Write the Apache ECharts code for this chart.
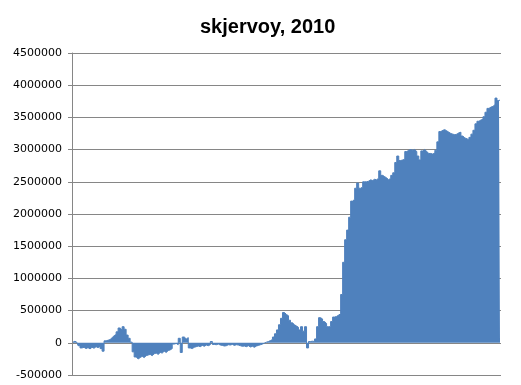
<!DOCTYPE html>
<html>
<head>
<meta charset="utf-8">
<script src="https://cdn.jsdelivr.net/npm/echarts@6/dist/echarts.min.js"></script>
<style>
html,body{margin:0;padding:0;background:#fff;}
#c{width:521px;height:385px;}
</style>
</head>
<body>
<div id="c"></div>
<script>
const titleText = "skjervoy, 2010";
const yTicks = { min: -500000, max: 4500000, step: 500000 };
const values = [
  10000, 25000, 5000, -45000, -80000, -70000, -90000, -75000, -95000, -70000,
  -85000, -60000, -75000, -55000, -90000, -130000, 30000, 40000, 50000, 80000,
  110000, 130000, 170000, 230000, 200000, 250000, 210000, 120000, 70000, 10000,
  -140000, -220000, -250000, -230000, -210000, -230000, -200000, -190000, -180000, -200000,
  -170000, -160000, -180000, -150000, -160000, -130000, -150000, -120000, -110000, -90000,
  -20000, -10000, -30000, 70000, -150000, 90000, 60000, 80000, -80000, -90000,
  -70000, -60000, -50000, -60000, -40000, -55000, -35000, -45000, -30000, 20000,
  -25000, -30000, -20000, -35000, -40000, -50000, -45000, -30000, -35000, -25000,
  -40000, -30000, -35000, -45000, -55000, -50000, -60000, -45000, -65000, -55000,
  -70000, -50000, -40000, -30000, -20000, -5000, 10000, 20000, 35000, 50000,
  90000, 140000, 200000, 280000, 380000, 470000, 440000, 420000, 350000, 310000,
  280000, 260000, 240000, 200000, 250000, 180000, 250000, -80000, 20000, 25000,
  20000, 60000, 250000, 390000, 370000, 330000, 300000, 250000, 250000, 330000,
  400000, 410000, 430000, 450000, 750000, 1250000, 1600000, 1750000, 1950000, 2200000,
  2230000, 2400000, 2480000, 2400000, 2420000, 2500000, 2500000, 2510000, 2530000, 2520000,
  2540000, 2530000, 2560000, 2670000, 2600000, 2580000, 2560000, 2530000, 2560000, 2600000,
  2640000, 2800000, 2900000, 2830000, 2840000, 2850000, 2970000, 2990000, 3000000, 2990000,
  3000000, 2970000, 2900000, 2840000, 2980000, 3000000, 2970000, 2940000, 2940000, 2930000,
  2950000, 2990000, 3120000, 3280000, 3300000, 3310000, 3290000, 3270000, 3250000, 3240000,
  3230000, 3240000, 3260000, 3270000, 3210000, 3180000, 3170000, 3150000, 3190000, 3240000,
  3300000, 3400000, 3440000, 3460000, 3470000, 3510000, 3580000, 3640000, 3660000, 3670000,
  3700000, 3800000, 3760000, 3770000
];
const categories = values.map((v, i) => String(i + 1));

const chart = echarts.init(document.getElementById('c'), null, { renderer: 'canvas' });
chart.setOption({
  animation: false,
  backgroundColor: '#ffffff',
  title: {
    text: titleText,
    left: 195,
    top: 12,
    textStyle: { fontFamily: 'Liberation Sans', fontWeight: 'bold', fontSize: 20, color: '#000000' }
  },
  grid: { left: 72, right: 20, top: 53, bottom: 10, containLabel: false },
  xAxis: {
    type: 'category',
    data: categories,
    boundaryGap: true,
    axisLine: { show: false },
    axisTick: { show: false },
    axisLabel: { show: false },
    splitLine: { show: false }
  },
  yAxis: {
    type: 'value',
    min: yTicks.min,
    max: yTicks.max,
    interval: yTicks.step,
    axisLine: { show: true, lineStyle: { color: '#868686', width: 1 } },
    axisTick: { show: true, inside: false, length: 4, lineStyle: { color: '#868686' } },
    axisLabel: { margin: 10, fontFamily: 'DejaVu Sans', fontSize: 11, color: '#000000',
      formatter: v => String(v) },
    splitLine: { show: true, lineStyle: { color: '#868686', width: 1 } }
  },
  series: [{
    type: 'line',
    data: values,
    step: 'middle',
    symbol: 'none',
    lineStyle: { color: '#4f81bd', width: 1 },
    areaStyle: { color: '#4f81bd', opacity: 1, origin: 0 }
  }]
});
</script>
</body>
</html>
